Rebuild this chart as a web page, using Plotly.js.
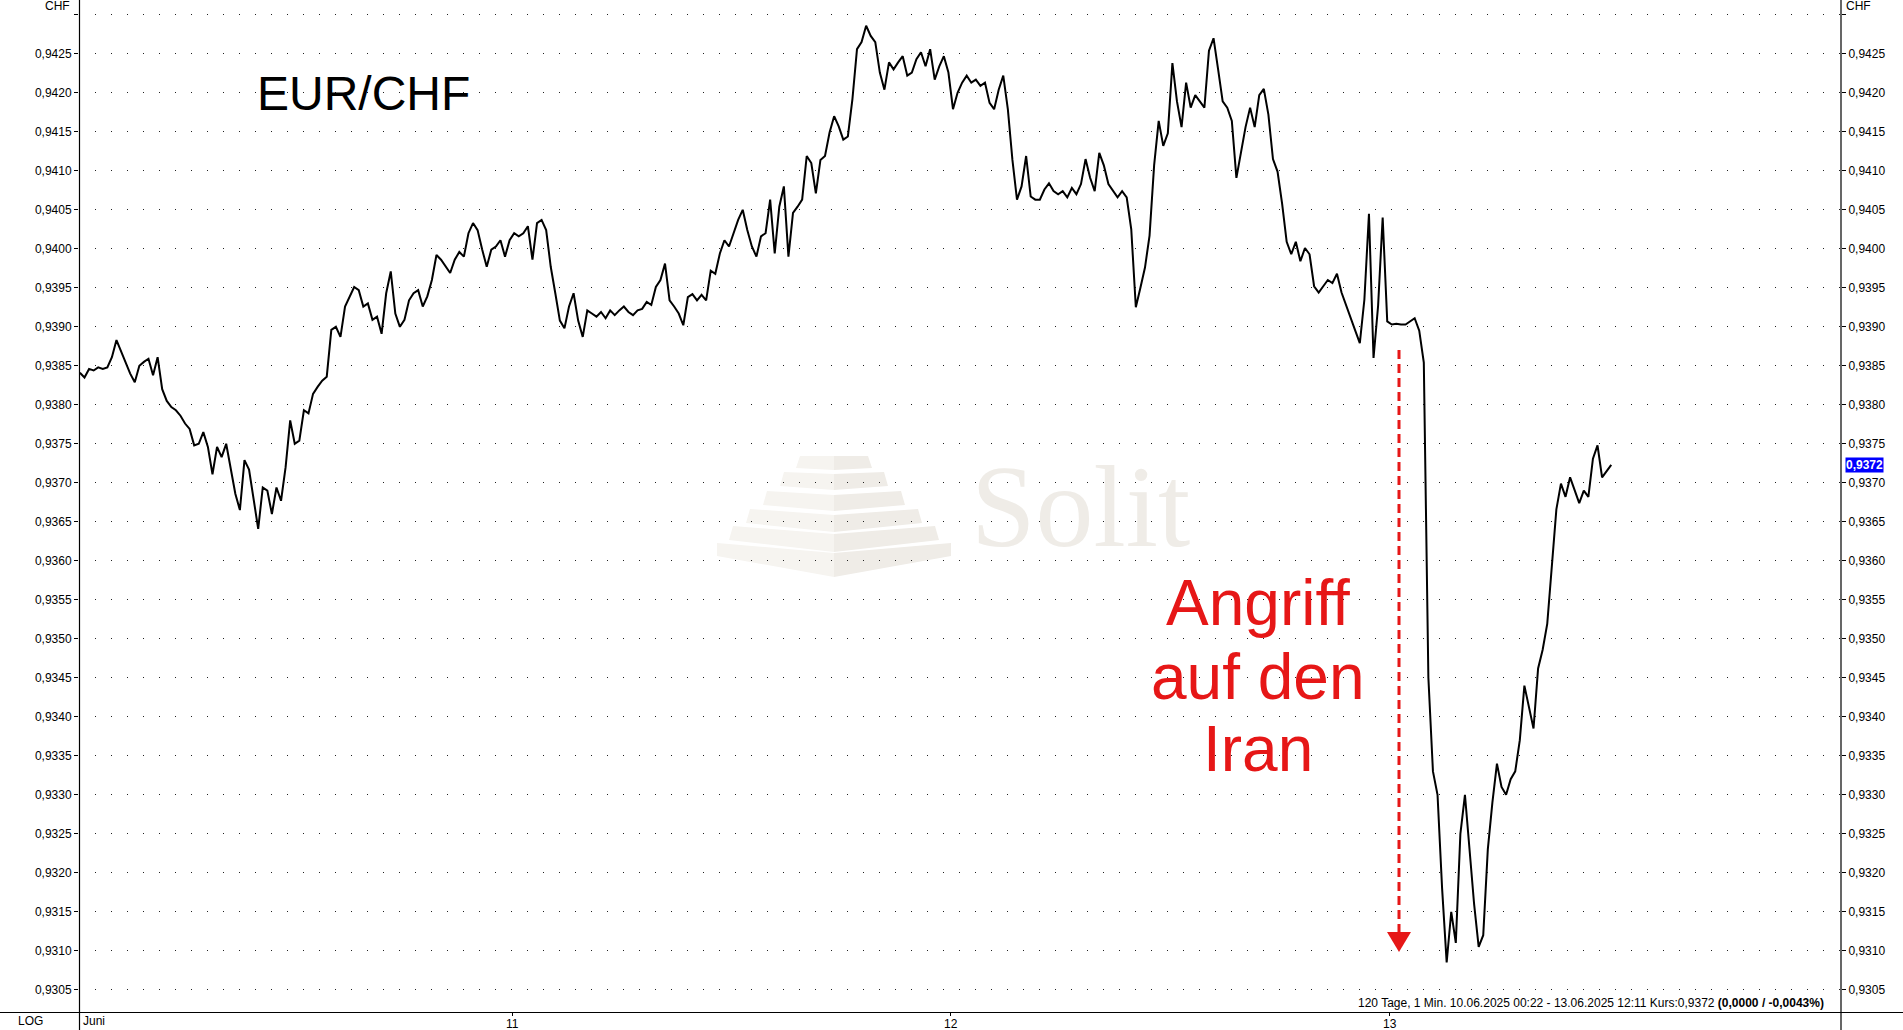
<!DOCTYPE html>
<html>
<head>
<meta charset="utf-8">
<script src="https://cdn.plot.ly/plotly-3.0.1.min.js"></script>
<style>
html,body{margin:0;padding:0;background:#fff;overflow:hidden}
#chart{width:1903px;height:1030px}
</style>
</head>
<body>
<div id="chart"></div>
<script>
// ---------------- DATA ----------------
const seriesName = 'EUR/CHF';
// price samples every 15 minutes starting 10.06.2025 00:22
const sampleStart = '2025-06-10 00:22';
const sampleStepMinutes = 15;
const priceValues = [
  0.93841,0.93835,0.93846,0.93844,0.93848,0.93846,0.93848,0.93861,0.93883,0.93868,
  0.93855,0.93840,0.93829,0.93850,0.93855,0.93859,0.93838,0.93861,0.93820,0.93805,
  0.93797,0.93793,0.93786,0.93776,0.93769,0.93748,0.93750,0.93765,0.93746,0.93711,
  0.93746,0.93733,0.93750,0.93717,0.93686,0.93665,0.93729,0.93717,0.93677,0.93641,
  0.93694,0.93690,0.93660,0.93694,0.93677,0.93720,0.93780,0.93750,0.93754,0.93793,
  0.93789,0.93814,0.93823,0.93831,0.93836,0.93896,0.93900,0.93887,0.93926,0.93939,
  0.93951,0.93947,0.93926,0.93930,0.93909,0.93913,0.93891,0.93943,0.93971,0.93917,
  0.93900,0.93909,0.93934,0.93943,0.93947,0.93926,0.93939,0.93960,0.93992,0.93986,
  0.93977,0.93969,0.93986,0.93996,0.93990,0.94020,0.94033,0.94024,0.93999,0.93977,
  0.93999,0.94003,
  0.94011,0.93990,0.94011,0.94020,0.94016,0.94020,0.94029,0.93986,0.94033,0.94037,
  0.94024,0.93977,0.93943,0.93908,0.93898,0.93926,0.93943,0.93908,0.93887,0.93921,
  0.93917,0.93913,0.93919,0.93911,0.93921,0.93915,0.93921,0.93926,0.93919,0.93915,
  0.93921,0.93923,0.93932,0.93928,0.93951,0.93960,0.93981,0.93934,0.93926,0.93917,
  0.93902,0.93938,0.93942,0.93934,0.93941,0.93934,0.93972,0.93968,0.93994,0.94011,
  0.94003,0.94020,0.94037,0.94050,0.94024,0.94003,0.93990,0.94016,0.94020,0.94063,
  0.93994,0.94054,0.94080,0.93990,0.94046,0.94054,0.94063,0.94119,0.94110,0.94071,
  0.94114,0.94119,0.94149,0.94170,0.94157,0.94140,0.94144,0.94192,0.94256,0.94265,
  0.94286,0.94273,0.94265,0.94226,0.94204,0.94239,0.94230,0.94239,0.94247,0.94222,
  0.94226,0.94243,0.94252,0.94234,0.94256,0.94217,0.94234,0.94247,0.94226,0.94179,
  0.94200,0.94213,0.94222,0.94213,0.94217,0.94209,0.94213,0.94187,0.94179,0.94204,
  0.94222,0.94179,0.94114,0.94063,0.94080,0.94119,0.94067,0.94063,0.94063,0.94076,
  0.94084,0.94074,
  0.94070,0.94074,0.94066,0.94078,0.94070,0.94083,0.94115,0.94091,0.94074,0.94123,
  0.94107,0.94083,0.94074,0.94066,0.94074,0.94066,0.94025,0.93925,0.93950,0.93976,
  0.94017,0.94107,0.94164,0.94132,0.94148,0.94238,0.94189,0.94156,0.94213,0.94181,
  0.94197,0.94189,0.94181,0.94254,0.94270,0.94230,0.94189,0.94181,0.94164,0.94091,
  0.94123,0.94156,0.94181,0.94156,0.94197,0.94205,0.94172,0.94115,0.94099,0.94058,
  0.94009,0.93993,0.94009,0.93984,0.94001,0.93993,0.93952,0.93944,0.93952,0.93960,
  0.93956,0.93968,0.93944,0.93927,0.93911,0.93895,0.93879,0.93935,0.94045,0.93860,
  0.93927,0.94040,0.93907,0.93903,0.93904,0.93903,0.93903,0.93907,0.93911,0.93895,
  0.93854,0.93450,0.93330,0.93300,0.93180,0.93085,0.93150,0.93110,0.93250,0.93300,
  0.93230,0.93160,0.93105,0.93120,0.93230,0.93290,0.93340,0.93310,0.93300,0.93320,
  0.93330,0.93370,0.93440,0.93410,0.93385,0.93462,0.93486,0.93519,0.93592,0.93666,
  0.93699,0.93682,0.93707,0.93690,0.93674,0.93690,0.93682,0.93731,0.93748,0.93707,
  0.93715,0.93723
];
const yTickValues = [0.9305,0.9310,0.9315,0.9320,0.9325,0.9330,0.9335,0.9340,0.9345,0.9350,
  0.9355,0.9360,0.9365,0.9370,0.9375,0.9380,0.9385,0.9390,0.9395,0.9400,0.9405,0.9410,
  0.9415,0.9420,0.9425,0.9430];
const yTickLabels = ['0,9305','0,9310','0,9315','0,9320','0,9325','0,9330','0,9335','0,9340',
  '0,9345','0,9350','0,9355','0,9360','0,9365','0,9370','0,9375','0,9380','0,9385','0,9390',
  '0,9395','0,9400','0,9405','0,9410','0,9415','0,9420','0,9425',''];
const xTickValues = ['2025-06-11 00:00','2025-06-12 00:00','2025-06-13 00:00'];
const xTickLabels = ['11','12','13'];
const firstAxisLabel = 'Juni';
const axisUnit = 'CHF';
const scaleLabel = 'LOG';
const infoText = '120 Tage, 1 Min. 10.06.2025 00:22 - 13.06.2025 12:11 Kurs:0,9372 <b>(0,0000 / -0,0043%)</b>';
const eventLines = ['Angriff','auf den','Iran'];
const watermarkText = 'Solit';

// ---------------- LAYOUT GEOMETRY ----------------
const W = 1903, H = 1030, ML = 79, MR = 62, MT = 0, MB = 18;
const PW = W - ML - MR, PH = H - MT - MB;
const px = x => (x - ML) / PW;
const py = y => 1 - (y - MT) / PH;
const FONT = 'Liberation Sans, Arial, sans-serif';
const RED = '#e61717';

const lastPrice = priceValues[priceValues.length - 1];
const lastLabel = lastPrice.toFixed(4).replace('.', ',');

const shapes = [];
// watermark pyramid (chevron stripes, two-tone)
const cx = 834;
const stripes = [
  [34,38,456,456,468,470],
  [50,54,472,474,486,490],
  [67,71,491,495,505,511],
  [84,88,509,515,523,532],
  [101,105,526,534,540,552],
  [117,117,543,553,556,577]
];
stripes.forEach(s => {
  const [hwT,hwB,yTS,yTC,yBS,yBC] = s;
  const left = `M${px(cx-hwT)},${py(yTS)} L${px(cx)},${py(yTC)} L${px(cx)},${py(yBC)} L${px(cx-hwB)},${py(yBS)} Z`;
  const right = `M${px(cx)},${py(yTC)} L${px(cx+hwT)},${py(yTS)} L${px(cx+hwB)},${py(yBS)} L${px(cx)},${py(yBC)} Z`;
  shapes.push({type:'path', xref:'paper', yref:'paper', path:left, fillcolor:'#f6f4f0', line:{width:0}, layer:'below'});
  shapes.push({type:'path', xref:'paper', yref:'paper', path:right, fillcolor:'#efece7', line:{width:0}, layer:'below'});
});
// frame lines
shapes.push({type:'line', xref:'paper', yref:'paper', x0:px(0), x1:px(W), y0:py(1012.5), y1:py(1012.5), line:{color:'#000', width:1.2}});
shapes.push({type:'line', xref:'paper', yref:'paper', x0:px(79.5), x1:px(79.5), y0:py(0), y1:py(H), line:{color:'#000', width:1.2}});
shapes.push({type:'line', xref:'paper', yref:'paper', x0:px(1841), x1:px(1841), y0:py(0), y1:py(H), line:{color:'#000', width:1.2}});
// dashed arrow
const ax = 1399;
shapes.push({type:'line', xref:'paper', yref:'paper', x0:px(ax), x1:px(ax), y0:py(350), y1:py(936), line:{color:RED, width:3, dash:'9px,5px'}});
shapes.push({type:'path', xref:'paper', yref:'paper',
  path:`M${px(ax-12)},${py(932)} L${px(ax+12)},${py(932)} L${px(ax)},${py(952)} Z`,
  fillcolor:RED, line:{width:0}});

const annotations = [
  {text:axisUnit, xref:'paper', yref:'paper', x:px(72), y:py(6), xanchor:'right', yanchor:'middle', showarrow:false, font:{family:FONT, size:12, color:'#000'}},
  {text:axisUnit, xref:'paper', yref:'paper', x:px(1844), y:py(6), xanchor:'left', yanchor:'middle', showarrow:false, font:{family:FONT, size:12, color:'#000'}},
  {text:scaleLabel, xref:'paper', yref:'paper', x:px(30), y:py(1021), xanchor:'center', yanchor:'middle', showarrow:false, font:{family:FONT, size:12, color:'#000'}},
  {text:firstAxisLabel, xref:'paper', yref:'paper', x:px(81), y:py(1021.5), xanchor:'left', yanchor:'middle', showarrow:false, font:{family:FONT, size:12, color:'#000'}},
  {text:infoText, xref:'paper', yref:'paper', x:px(1826), y:py(1002.5), xanchor:'right', yanchor:'middle', showarrow:false, font:{family:FONT, size:12, color:'#000'}},
  {text:seriesName, xref:'paper', yref:'paper', x:px(363), y:py(93.5), xanchor:'center', yanchor:'middle', showarrow:false, font:{family:FONT, size:48, color:'#000'}},
  {text:watermarkText, xref:'paper', yref:'paper', x:px(1080), y:py(507), xanchor:'center', yanchor:'middle', showarrow:false, font:{family:'Liberation Serif, DejaVu Serif, serif', size:116, color:'#efece7'}},
  {text:'<b>' + lastLabel + '</b>', xref:'paper', yref:'y', x:px(1845), y:lastPrice, xanchor:'left', yanchor:'middle', showarrow:false, bgcolor:'#0000ff', borderpad:0, font:{family:FONT, size:12, color:'#fff'}}
];
// x tick labels drawn at the axis tick positions
xTickValues.forEach((v, k) => {
  annotations.push({text:xTickLabels[k], xref:'x', yref:'paper', x:v, y:py(1023.5), xanchor:'center', yanchor:'middle', showarrow:false, font:{family:FONT, size:12, color:'#000'}});
});
const lineCenters = [603, 677, 749];
eventLines.forEach((t, k) => {
  annotations.push({text:t, xref:'paper', yref:'paper', x:px(1258), y:py(lineCenters[k]), xanchor:'center', yanchor:'middle', showarrow:false, font:{family:FONT, size:64, color:RED}});
});

const yRange = [0.930215, 0.94319];
const traces = [
  {type:'scatter', mode:'lines', name:seriesName, x0:sampleStart, dx:sampleStepMinutes*60*1000, y:priceValues,
   line:{color:'#000', width:2}, hoverinfo:'skip', showlegend:false},
  {type:'scatter', mode:'markers', x:[sampleStart], y:[priceValues[0]], yaxis:'y2', marker:{opacity:0}, hoverinfo:'skip', showlegend:false}
];

const yCommon = {
  range:yRange, tickmode:'array', tickvals:yTickValues, ticktext:yTickLabels,
  ticks:'outside', ticklen:4, tickcolor:'#000', tickwidth:1,
  tickfont:{family:FONT, size:12, color:'#000'}, showline:false, zeroline:false, fixedrange:true
};

const layout = {
  width:W, height:H, margin:{l:ML, r:MR, t:MT, b:MB, pad:0},
  paper_bgcolor:'#fff', plot_bgcolor:'#fff', showlegend:false, hovermode:false,
  font:{family:FONT, size:12, color:'#000'},
  xaxis:{type:'date', range:['2025-06-10 00:19','2025-06-14 00:41'], tickmode:'array',
    tickvals:xTickValues, ticktext:xTickLabels, showticklabels:false, ticks:'outside', ticklen:3, tickcolor:'#000',
    showgrid:false, showline:false, zeroline:false, fixedrange:true},
  yaxis:Object.assign({}, yCommon, {side:'left', showgrid:true, gridcolor:'#222', gridwidth:1, griddash:'1px,15px'}),
  yaxis2:Object.assign({}, yCommon, {side:'right', overlaying:'y', showgrid:false}),
  shapes:shapes, annotations:annotations
};

Plotly.newPlot('chart', traces, layout, {displayModeBar:false, staticPlot:true});
</script>
</body>
</html>
